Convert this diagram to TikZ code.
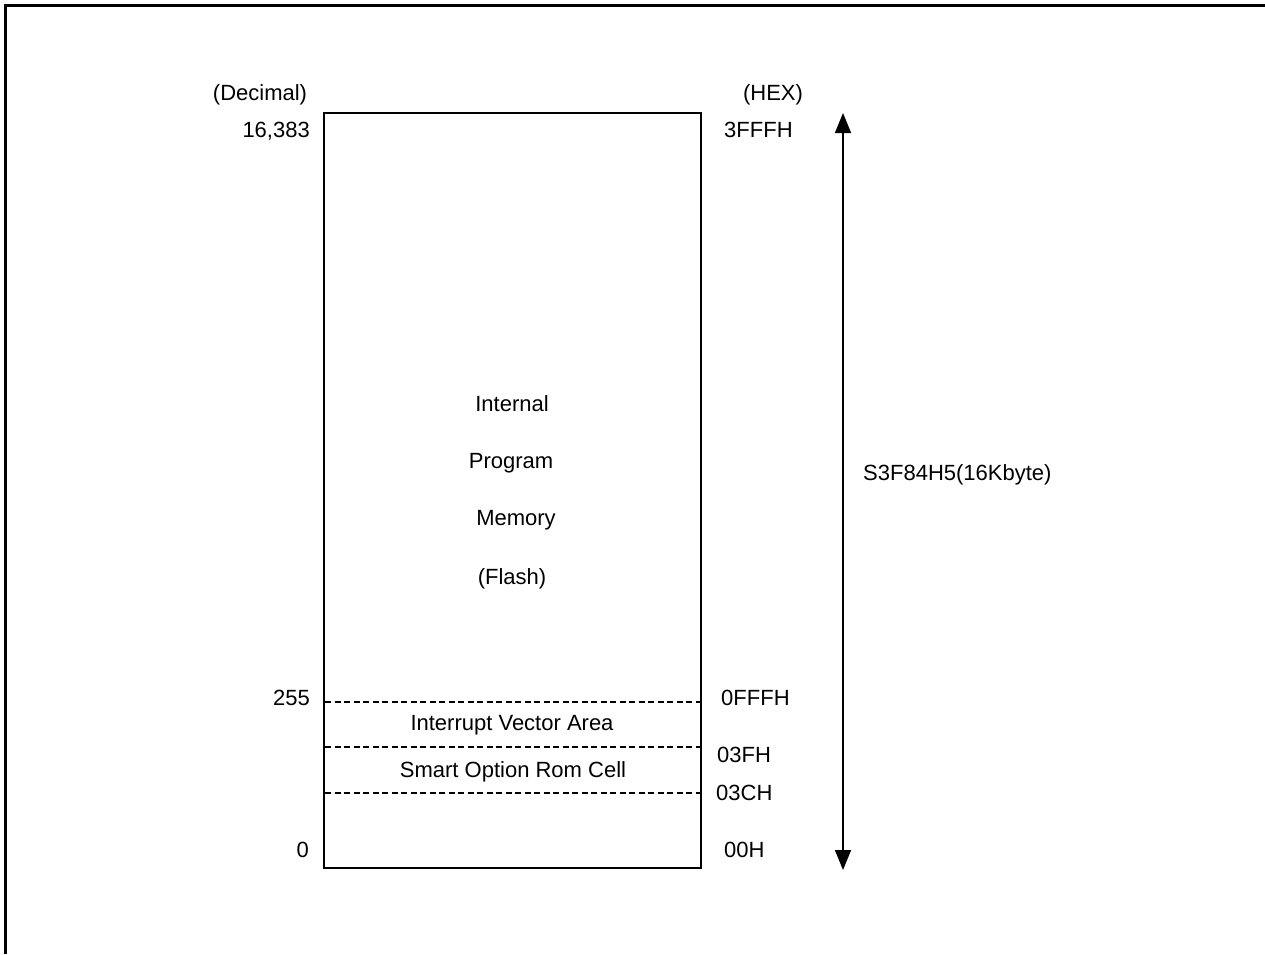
\documentclass[tikz,border=0pt]{standalone}
\usepackage{fontspec}
\setmainfont{Liberation Sans}
\usetikzlibrary{arrows.meta}
\begin{document}
\begin{tikzpicture}[x=1pt,y=-1pt,
  lbl/.style={inner sep=0pt,font=\fontsize{22}{26}\selectfont},
  memline/.style={line width=1.5pt},
  divider/.style={line width=2pt,dash pattern=on 6pt off 3.5pt},
  span/.style={line width=1.5pt,{Triangle[width=16pt,length=20pt]}-{Triangle[width=16pt,length=20pt]}},
  frame/.style={line width=3pt}]
\useasboundingbox (0,0) rectangle (1265,954);
% outer frame (top and left edges)
\draw[frame] (5,954) -- (5,5) -- (1265,5);
% memory box
\coordinate (tl) at (324,113);
\coordinate (br) at (701,868);
\draw[memline] (tl) rectangle (br);
% dashed dividers
\coordinate (d1l) at (325,702); \coordinate (d1r) at (700,702);
\coordinate (d2l) at (325,747); \coordinate (d2r) at (700,747);
\coordinate (d3l) at (325,793); \coordinate (d3r) at (700,793);
\draw[divider] (d1l) -- (d1r);
\draw[divider] (d2l) -- (d2r);
\draw[divider] (d3l) -- (d3r);
% span arrow
\coordinate (atop) at (843,113);
\coordinate (abot) at (843,870);
\draw[span] (abot) -- (atop);
% labels
\node[lbl,anchor=base] (dec) at (260,100) {(Decimal)};
\node[lbl,anchor=base] (hex) at (773,100) {(HEX)};
\node[lbl,anchor=base east] (d16383) at (310,137) {16,383};
\node[lbl,anchor=base west] (h3fff) at (724,137) {3FFFH};
\node[lbl,anchor=base] (int) at (512,411) {Internal};
\node[lbl,anchor=base] (prog) at (511,468) {Program};
\node[lbl,anchor=base] (mem) at (516,525) {Memory};
\node[lbl,anchor=base] (fl) at (512,584) {(Flash)};
\node[lbl,anchor=base west] (size) at (863,480) {S3F84H5(16Kbyte)};
\node[lbl,anchor=base east] (d255) at (310,705) {255};
\node[lbl,anchor=base west] (h0ff) at (721,705) {0FFFH};
\node[lbl,anchor=base] (iva) at (512,730) {Interrupt Vector Area};
\node[lbl,anchor=base west] (h03f) at (717,762) {03FH};
\node[lbl,anchor=base] (sor) at (513,777) {Smart Option Rom Cell};
\node[lbl,anchor=base west] (h03c) at (716,800) {03CH};
\node[lbl,anchor=base east] (d0) at (309,857) {0};
\node[lbl,anchor=base west] (h00) at (724,857) {00H};
\end{tikzpicture}
\end{document}
